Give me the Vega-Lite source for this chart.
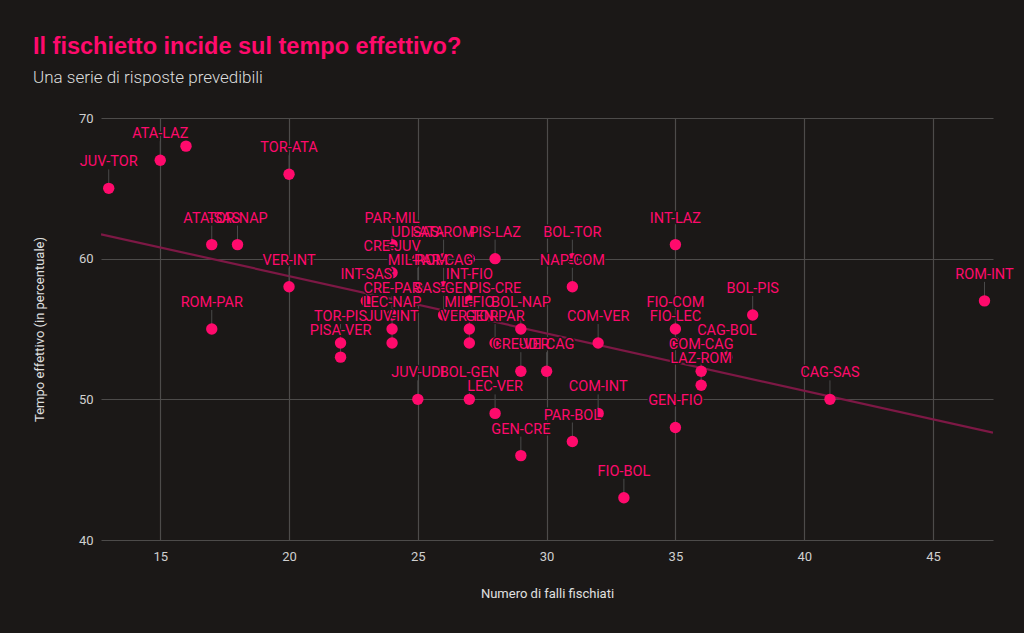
{
  "$schema": "https://vega.github.io/schema/vega-lite/v6.json",
  "width": 892,
  "height": 422,
  "autosize": "none",
  "padding": {"left": 101, "top": 118, "right": 31, "bottom": 93},
  "background": "#1b1817",
  "title": {
    "text": "Il fischietto incide sul tempo effettivo?",
    "subtitle": "Una serie di risposte prevedibili",
    "anchor": "start",
    "frame": "group",
    "dx": -68,
    "offset": 26,
    "font": "Liberation Sans",
    "fontSize": 23.5,
    "fontWeight": "bold",
    "color": "#ff0a6c",
    "subtitleFont": "Roboto",
    "subtitleFontSize": 17,
    "subtitleFontWeight": 300,
    "subtitleColor": "#dddddd",
    "subtitlePadding": 12
  },
  "config": {
    "view": {"stroke": null},
    "axis": {
      "domain": false,
      "ticks": false,
      "grid": true,
      "gridColor": "#4d4b4a",
      "gridWidth": 1.2,
      "labelFont": "Roboto",
      "labelFontSize": 13,
      "labelColor": "#d0d0d0",
      "titleFont": "Roboto",
      "titleFontSize": 13,
      "titleFontWeight": "normal",
      "titleColor": "#e0e0e0"
    }
  },
  "data": {
    "values": [
      {"falli": 16, "tempo": 68, "partita": ""},
      {"falli": 27, "tempo": 60, "partita": ""},
      {"falli": 13, "tempo": 65, "partita": "JUV-TOR"},
      {"falli": 15, "tempo": 67, "partita": "ATA-LAZ"},
      {"falli": 20, "tempo": 66, "partita": "TOR-ATA"},
      {"falli": 17, "tempo": 61, "partita": "ATA-SAS"},
      {"falli": 18, "tempo": 61, "partita": "TOR-NAP"},
      {"falli": 20, "tempo": 58, "partita": "VER-INT"},
      {"falli": 17, "tempo": 55, "partita": "ROM-PAR"},
      {"falli": 22, "tempo": 54, "partita": "TOR-PIS"},
      {"falli": 22, "tempo": 53, "partita": "PISA-VER"},
      {"falli": 26, "tempo": 60, "partita": "SAS-ROM"},
      {"falli": 26, "tempo": 58, "partita": "PAR-CAG"},
      {"falli": 24, "tempo": 61, "partita": "PAR-MIL"},
      {"falli": 25, "tempo": 60, "partita": "UDI-ATA"},
      {"falli": 28, "tempo": 60, "partita": "PIS-LAZ"},
      {"falli": 24, "tempo": 59, "partita": "CRE-JUV"},
      {"falli": 25, "tempo": 58, "partita": "MIL-ROM"},
      {"falli": 23, "tempo": 57, "partita": "INT-SAS"},
      {"falli": 27, "tempo": 57, "partita": "INT-FIO"},
      {"falli": 24, "tempo": 56, "partita": "CRE-PAR"},
      {"falli": 26, "tempo": 56, "partita": "SAS-GEN"},
      {"falli": 28, "tempo": 56, "partita": "PIS-CRE"},
      {"falli": 24, "tempo": 55, "partita": "LEC-NAP"},
      {"falli": 27, "tempo": 55, "partita": "MIL-FIO"},
      {"falli": 29, "tempo": 55, "partita": "BOL-NAP"},
      {"falli": 24, "tempo": 54, "partita": "JUV-INT"},
      {"falli": 27, "tempo": 54, "partita": "VER-TOR"},
      {"falli": 28, "tempo": 54, "partita": "GEN-PAR"},
      {"falli": 29, "tempo": 52, "partita": "CRE-VER"},
      {"falli": 30, "tempo": 52, "partita": "UDI-CAG"},
      {"falli": 31, "tempo": 60, "partita": "BOL-TOR"},
      {"falli": 31, "tempo": 58, "partita": "NAP-COM"},
      {"falli": 32, "tempo": 54, "partita": "COM-VER"},
      {"falli": 25, "tempo": 50, "partita": "JUV-UDI"},
      {"falli": 27, "tempo": 50, "partita": "BOL-GEN"},
      {"falli": 28, "tempo": 49, "partita": "LEC-VER"},
      {"falli": 32, "tempo": 49, "partita": "COM-INT"},
      {"falli": 31, "tempo": 47, "partita": "PAR-BOL"},
      {"falli": 29, "tempo": 46, "partita": "GEN-CRE"},
      {"falli": 33, "tempo": 43, "partita": "FIO-BOL"},
      {"falli": 35, "tempo": 61, "partita": "INT-LAZ"},
      {"falli": 35, "tempo": 55, "partita": "FIO-COM"},
      {"falli": 35, "tempo": 54, "partita": "FIO-LEC"},
      {"falli": 37, "tempo": 53, "partita": "CAG-BOL"},
      {"falli": 36, "tempo": 52, "partita": "COM-CAG"},
      {"falli": 36, "tempo": 51, "partita": "LAZ-ROM"},
      {"falli": 38, "tempo": 56, "partita": "BOL-PIS"},
      {"falli": 35, "tempo": 48, "partita": "GEN-FIO"},
      {"falli": 41, "tempo": 50, "partita": "CAG-SAS"},
      {"falli": 47, "tempo": 57, "partita": "ROM-INT"}
    ]
  },
  "encoding": {
    "x": {
      "field": "falli",
      "type": "quantitative",
      "title": "Numero di falli fischiati",
      "scale": {"domain": [12.7, 47.33], "nice": false, "zero": false},
      "axis": {"values": [15, 20, 25, 30, 35, 40, 45], "labelPadding": 10, "titlePadding": 24}
    },
    "y": {
      "field": "tempo",
      "type": "quantitative",
      "title": "Tempo effettivo (in percentuale)",
      "scale": {"domain": [40, 70], "nice": false, "zero": false},
      "axis": {"values": [40, 50, 60, 70], "labelPadding": 8, "titlePadding": 32}
    }
  },
  "layer": [
    {
      "transform": [{"regression": "tempo", "on": "falli", "extent": [12.7, 47.33]}],
      "mark": {"type": "line", "color": "#7d1845", "strokeWidth": 2.2, "clip": true}
    },
    {
      "transform": [{"filter": "datum.partita != ''"}],
      "mark": {"type": "rule", "color": "#4a4a4a", "strokeWidth": 1, "y2Offset": -19},
      "encoding": {"y2": {"field": "tempo"}}
    },
    {
      "mark": {"type": "point", "filled": true, "size": 130, "opacity": 1, "color": "#ff0a6c"}
    },
    {
      "transform": [{"filter": "datum.partita != ''"}],
      "mark": {"type": "text", "font": "Roboto", "fontSize": 14.5, "dy": -26, "stroke": "#1b1817", "strokeWidth": 3, "strokeJoin": "round", "fill": "#1b1817"},
      "encoding": {"text": {"field": "partita"}}
    },
    {
      "transform": [{"filter": "datum.partita != ''"}],
      "mark": {"type": "text", "font": "Roboto", "fontSize": 14.5, "dy": -26, "color": "#ff0a6c"},
      "encoding": {"text": {"field": "partita"}}
    }
  ]
}
